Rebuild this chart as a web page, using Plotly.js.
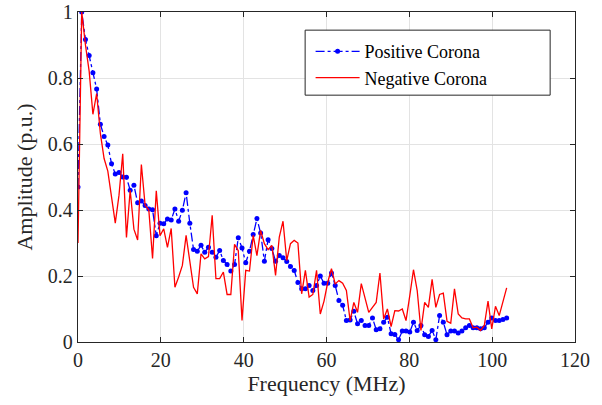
<!DOCTYPE html>
<html>
<head>
<meta charset="utf-8">
<script src="https://cdn.plot.ly/plotly-3.0.1.min.js"></script>
<style>
html,body{margin:0;padding:0;background:#fff;}
#chart{width:602px;height:405px;}
</style>
</head>
<body>
<div id="chart"></div>
<script>
// Frequency samples (MHz)
const frequency = [
  0.0, 0.9, 1.8, 2.7, 3.6, 4.5, 5.4, 6.3, 7.2, 8.1,
  9.0, 9.9, 10.8, 11.7, 12.6, 13.5, 14.4, 15.3, 16.2, 17.1,
  18.0, 18.9, 19.8, 20.7, 21.6, 22.5, 23.4, 24.3, 25.2, 26.1,
  27.0, 27.9, 28.8, 29.7, 30.6, 31.5, 32.4, 33.3, 34.2, 35.1,
  36.0, 36.9, 37.8, 38.7, 39.6, 40.5, 41.4, 42.3, 43.2, 44.1,
  45.0, 45.9, 46.8, 47.7, 48.6, 49.5, 50.4, 51.3, 52.2, 53.1,
  54.0, 54.9, 55.8, 56.7, 57.6, 58.5, 59.4, 60.3, 61.2, 62.1,
  63.0, 63.9, 64.8, 65.7, 66.6, 67.5, 68.4, 69.3, 70.2, 71.1,
  72.0, 72.9, 73.8, 74.7, 75.6, 76.5, 77.4, 78.3, 79.2, 80.1,
  81.0, 81.9, 82.8, 83.7, 84.6, 85.5, 86.4, 87.3, 88.2, 89.1,
  90.0, 90.9, 91.8, 92.7, 93.6, 94.5, 95.4, 96.3, 97.2, 98.1,
  99.0, 99.9, 100.8, 101.7, 102.6, 103.5
];

// Positive corona amplitude (p.u.)
const positiveCorona = [
  0.47, 1.0, 0.917, 0.868, 0.816, 0.767, 0.66, 0.623, 0.597, 0.54,
  0.509, 0.514, 0.50, 0.499, 0.46, 0.475, 0.422, 0.427, 0.414, 0.403,
  0.401, 0.322, 0.36, 0.358, 0.373, 0.37, 0.403, 0.366, 0.399, 0.452,
  0.36, 0.28, 0.275, 0.293, 0.272, 0.287, 0.272, 0.257, 0.277, 0.247,
  0.235, 0.215, 0.235, 0.316, 0.285, 0.24, 0.275, 0.326, 0.374, 0.33,
  0.245, 0.31, 0.283, 0.245, 0.262, 0.255, 0.244, 0.229, 0.217, 0.18,
  0.161, 0.161, 0.171, 0.156, 0.171, 0.2, 0.178, 0.178, 0.209, 0.171,
  0.126, 0.111, 0.065, 0.067, 0.093, 0.055, 0.065, 0.05, 0.05, 0.073,
  0.037, 0.04, 0.06, 0.075, 0.025, 0.023, 0.007, 0.033, 0.033, 0.03,
  0.06, 0.035, 0.05, 0.022, 0.017, 0.035, 0.007, 0.08, 0.06, 0.022,
  0.033, 0.033, 0.027, 0.033, 0.043, 0.05, 0.043, 0.043, 0.04, 0.043,
  0.06, 0.073, 0.065, 0.065, 0.068, 0.073
];

// Negative corona amplitude (p.u.)
const negativeCorona = [
  0.30, 1.0, 0.90, 0.82, 0.69, 0.753, 0.632, 0.556, 0.518, 0.44,
  0.36, 0.445, 0.57, 0.317, 0.46, 0.342, 0.309, 0.538, 0.415, 0.40,
  0.253, 0.458, 0.322, 0.343, 0.287, 0.344, 0.166, 0.197, 0.232, 0.323,
  0.238, 0.166, 0.146, 0.267, 0.252, 0.259, 0.384, 0.192, 0.192, 0.212,
  0.144, 0.144, 0.296, 0.277, 0.065, 0.217, 0.215, 0.323, 0.262, 0.338,
  0.298, 0.28, 0.293, 0.202, 0.318, 0.366, 0.247, 0.298, 0.308, 0.30,
  0.146, 0.217, 0.136, 0.144, 0.217, 0.085, 0.124, 0.181, 0.222, 0.176,
  0.186, 0.178, 0.156, 0.065, 0.12, 0.09, 0.177, 0.13, 0.09, 0.105,
  0.12, 0.209, 0.07, 0.1, 0.047, 0.095, 0.094, 0.1, 0.065, 0.14,
  0.219, 0.156, 0.035, 0.12, 0.105, 0.19, 0.105, 0.144, 0.148, 0.063,
  0.057, 0.161, 0.085, 0.073, 0.07, 0.07, 0.043, 0.045, 0.035, 0.05,
  0.124, 0.04, 0.108, 0.08, 0.12, 0.164
];

const xTicks = [0, 20, 40, 60, 80, 100, 120];
const yTicks = [0, 0.2, 0.4, 0.6, 0.8, 1];
const yTickLabels = ['0', '0.2', '0.4', '0.6', '0.8', '1'];

const serif = 'Liberation Serif, Times New Roman, serif';
const ink = '#262626';

const traces = [
  {
    x: frequency, y: positiveCorona, name: 'Positive Corona',
    type: 'scatter', mode: 'lines+markers',
    line: {color: '#0000ff', width: 1.3, dash: 'dashdot'},
    marker: {color: '#0000ff', size: 5, symbol: 'circle'}
  },
  {
    x: frequency, y: negativeCorona, name: 'Negative Corona',
    type: 'scatter', mode: 'lines',
    line: {color: '#ff0000', width: 1.3}
  }
];

const axisCommon = {
  showline: true, mirror: 'ticks', linecolor: ink, linewidth: 1.2,
  ticks: 'inside', ticklen: 5, tickcolor: ink, tickwidth: 1,
  showgrid: true, gridcolor: '#e3e3e3', gridwidth: 1, zeroline: false,
  tickfont: {family: serif, size: 20, color: ink}
};

const layout = {
  width: 602, height: 405,
  margin: {l: 78, r: 27, t: 12, b: 63},
  paper_bgcolor: '#ffffff', plot_bgcolor: '#ffffff',
  showlegend: true,
  xaxis: Object.assign({}, axisCommon, {
    range: [0, 120], tickvals: xTicks, ticktext: xTicks.map(String),
    title: {text: 'Frequency (MHz)', font: {family: serif, size: 22, color: ink}, standoff: 4}
  }),
  yaxis: Object.assign({}, axisCommon, {
    range: [0, 1], tickvals: yTicks, ticktext: yTickLabels,
    title: {text: 'Amplitude (p.u.)', font: {family: serif, size: 22, color: ink}, standoff: 9}
  }),
  legend: {
    x: 0.468, y: 0.936, xanchor: 'left', yanchor: 'top',
    bgcolor: 'rgba(0,0,0,0)', borderwidth: 0,
    font: {family: serif, size: 18, color: '#000000'},
    itemwidth: 44,
    tracegroupgap: 0
  },
  shapes: [{
    type: 'rect', xref: 'paper', yref: 'paper',
    x0: 0.457, x1: 0.95, y0: 0.748, y1: 0.945,
    line: {color: ink, width: 1}, fillcolor: '#ffffff', layer: 'above'
  }]
};

Plotly.newPlot('chart', traces, layout, {displayModeBar: false, staticPlot: true});
</script>
</body>
</html>
